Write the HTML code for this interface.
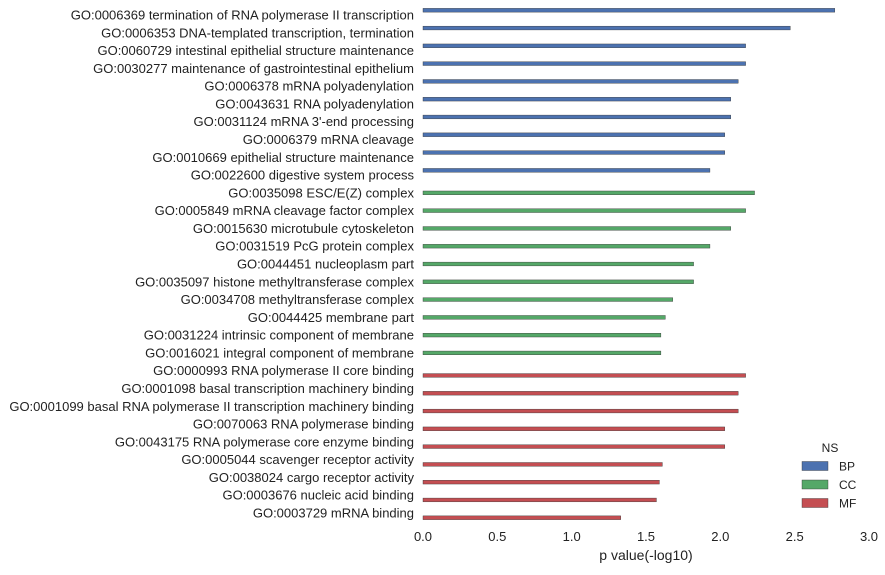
<!DOCTYPE html>
<html><head><meta charset="utf-8"><style>
body{margin:0;background:#fff;font-family:"Liberation Sans",sans-serif;}
svg text{font-family:"Liberation Sans",sans-serif;fill:#222;}
</style></head><body>
<svg id="chart" width="885" height="570"></svg>
<script>
const categories=["GO:0006369 termination of RNA polymerase II transcription","GO:0006353 DNA-templated transcription, termination","GO:0060729 intestinal epithelial structure maintenance","GO:0030277 maintenance of gastrointestinal epithelium","GO:0006378 mRNA polyadenylation","GO:0043631 RNA polyadenylation","GO:0031124 mRNA 3'-end processing","GO:0006379 mRNA cleavage","GO:0010669 epithelial structure maintenance","GO:0022600 digestive system process","GO:0035098 ESC/E(Z) complex","GO:0005849 mRNA cleavage factor complex","GO:0015630 microtubule cytoskeleton","GO:0031519 PcG protein complex","GO:0044451 nucleoplasm part","GO:0035097 histone methyltransferase complex","GO:0034708 methyltransferase complex","GO:0044425 membrane part","GO:0031224 intrinsic component of membrane","GO:0016021 integral component of membrane","GO:0000993 RNA polymerase II core binding","GO:0001098 basal transcription machinery binding","GO:0001099 basal RNA polymerase II transcription machinery binding","GO:0070063 RNA polymerase binding","GO:0043175 RNA polymerase core enzyme binding","GO:0005044 scavenger receptor activity","GO:0038024 cargo receptor activity","GO:0003676 nucleic acid binding","GO:0003729 mRNA binding"];
const namespaces=["BP","BP","BP","BP","BP","BP","BP","BP","BP","BP","CC","CC","CC","CC","CC","CC","CC","CC","CC","CC","MF","MF","MF","MF","MF","MF","MF","MF","MF"];
const values=[2.77,2.47,2.17,2.17,2.12,2.07,2.07,2.03,2.03,1.93,2.23,2.17,2.07,1.93,1.82,1.82,1.68,1.63,1.60,1.60,2.17,2.12,2.12,2.03,2.03,1.61,1.59,1.57,1.33];
const ticks=[0,0.5,1,1.5,2,2.5,3];
const nsList=["BP","CC","MF"];
const colors={BP:"#4c72b0",CC:"#55a868",MF:"#c44e52"};
const svg=document.getElementById('chart');
const NS="http://www.w3.org/2000/svg";
const x0=423,x1=869,xmax=3;
const xs=v=>x0+(x1-x0)*v/xmax;
const yTop=15,step=(513-15)/28;
const ys=i=>yTop+i*step;
const bh=step*0.8/3;
function mk(t,a){const e=document.createElementNS(NS,t);for(const k in a)e.setAttribute(k,a[k]);svg.appendChild(e);return e;}
categories.forEach((c,i)=>{
 const t=mk('text',{x:414,y:ys(i)+4.5,'text-anchor':'end','font-size':13});
 t.textContent=c;
 
 
 const off=(nsList.indexOf(namespaces[i])-1)*bh;
 const r=mk('rect',{x:x0,y:ys(i)+off-bh/2+0.5,width:xs(values[i])-x0,height:bh-1,fill:colors[namespaces[i]],stroke:'#333','stroke-width':0.4});
 
 
});
ticks.forEach(v=>{
 const t=mk('text',{x:xs(v),y:541,'text-anchor':'middle','font-size':13});
 t.textContent=v.toFixed(1);
 
 
});
const xt=mk('text',{x:646,y:560,'text-anchor':'middle','font-size':14});
xt.textContent='p value(-log10)';


const lt=mk('text',{x:830,y:452,'text-anchor':'middle','font-size':12});
lt.textContent='NS';


nsList.forEach((n,k)=>{
 const y=466+k*18.5;
 const r=mk('rect',{x:802,y:y-4.5,width:26,height:9,fill:colors[n],stroke:'#333','stroke-width':0.4});
 
 
 const t=mk('text',{x:839,y:y+4.5,'font-size':12});
 t.textContent=n;
 
 
});
</script>
</body></html>
